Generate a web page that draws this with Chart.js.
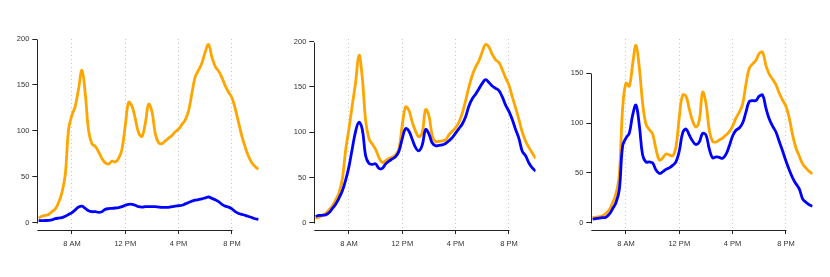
<!DOCTYPE html>
<html><head><meta charset="utf-8">
<script src="https://cdn.jsdelivr.net/npm/chart.js@4"></script>
<style>
html,body{margin:0;padding:0;background:#fff;}
#wrap{position:relative;width:830px;height:277px;background:#fff;}
canvas{position:absolute;top:0;}
</style></head><body>
<div id="wrap">
<canvas id="c1" width="277" height="277" style="left:0px"></canvas>
<canvas id="c2" width="277" height="277" style="left:277px"></canvas>
<canvas id="c3" width="276" height="277" style="left:554px"></canvas>
</div>
<script>
const hours = [5.5,5.75,6,6.25,6.5,6.75,7,7.25,7.5,7.75,8,8.25,8.5,8.75,9,9.25,9.5,9.75,10,10.25,10.5,10.75,11,11.25,11.5,11.75,12,12.25,12.5,12.75,13,13.25,13.5,13.75,14,14.25,14.5,14.75,15,15.25,15.5,15.75,16,16.25,16.5,16.75,17,17.25,17.5,17.75,18,18.25,18.5,18.75,19,19.25,19.5,19.75,20,20.25,20.5,20.75,21,21.25,21.5,21.75,22];

const orange1 = [5,7,8,9,12,15,22,33,53,102,117,127,146,166,140,100,86,83,77,70,65,64,67,66,70,80,106,131,127,113,98,94,108,129,121,97,87,86,89,92,95,99,102,107,112,122,141,159,166,174,186,194,180,170,165,158,149,142,136,124,109,94,82,72,65,61,58];
const blue1 = [2.2,2.3,2.4,2.5,3,4.4,5,5.5,7,9,11,14,17,18,15.5,13,12,12,11.3,12,14.5,15.3,15.6,16,16.5,17.5,19,20,20,19,17.5,17,17.4,17.5,17.5,17.4,17,16.7,16.7,16.7,17.5,18,18.5,19,20.5,22,23.5,24.5,25.2,26,27,28,26.5,25,23,20,18,17,15,12,10,9,8,6.8,5.5,4.3,3.5];

const orange2 = [5,6,8,10,14,18.5,25,33,48,80,104,130,155,185,160,113,93,87,81,72,66.5,68.5,71,72.5,75,82,108,128,124,111,101,95,100,125,118,96,89.5,90,90.5,91.5,97,101,105,111,121,135,150,163,172,179,189,197,194,186,180,177,169,160,152,139,127,114,100,90,83,77,71];
const blue2 = [7,8,8.2,8.7,11,15.5,20.5,27,35,47,62,82,101,111,103,74,65.5,64.5,65,60,60,65,68,70.5,73,79,93,104,101,92,83,79.5,86,103,98,88,85,85.5,86,87.5,90.5,94,99,104,109,117,129,137,142,148,154,158,155,151,148.5,146,139,130,123,114,103,93,79,74,66,60.5,57];

const orange3 = [5,5.5,6,7,9.5,13,20,29,48,115,140,137,159,178,156,120,99,93.5,89,74,63,65,69,68,67,76,106,128,127,114,102,96,103,131,120,93,81.5,81,83,85,88,91.5,97,105,111,119,139,155,159.5,163,170,171,158,149,144,138.5,130,123,117,105,88,75,67,59,55,51.5,49];
const blue3 = [3.5,4,4.5,5,5.5,8.5,14,20,33,77,85,90,108,118,98,68,61,61,60,53,49.5,51,53.5,55,57.5,61,72,90,94,88,82,78.5,81,89.5,88,74,65,66,65.5,64.6,68.5,77,87,92.8,95,100,111,121.6,122.5,122.6,127,128,115,104,97,91,81.5,72,62,53,45,39,34,24,20.5,18,16.5];

const yTicks1 = [0,50,100,150,200];
const yTicks2 = [0,50,100,150,200];
const yTicks3 = [0,50,100,150];
const xTickValues = [8,12,16,20];
const xTickLabels = ['8 AM','12 PM','4 PM','8 PM'];

const FONT = {family: "'Liberation Sans', Arial, sans-serif", size: 7.5};
const TXT = '#333';

const axisLines = {
  id: 'axisLines',
  beforeDatasetsDraw(chart) {
    const {ctx, chartArea, scales} = chart;
    const x = scales.x, y = scales.y;
    ctx.save();
    ctx.strokeStyle = '#222';
    ctx.lineWidth = 1;
    ctx.beginPath();
    const yt = y.ticks;
    const xl = Math.round(chartArea.left) + 0.5;
    ctx.moveTo(xl, Math.round(y.getPixelForValue(yt[0].value)) + 0.5);
    ctx.lineTo(xl, Math.round(y.getPixelForValue(yt[yt.length - 1].value)) + 0.5);
    const xt = x.ticks;
    const yb = Math.round(chartArea.bottom) + 0.5;
    ctx.moveTo(chartArea.left, yb);
    ctx.lineTo(Math.round(x.getPixelForValue(xt[xt.length - 1].value)) + 0.5, yb);
    ctx.stroke();
    ctx.restore();
  }
};

function makeChart(id, orange, blue, yTicks, yMin, yMax, canvasWidth) {
  const rightPad = canvasWidth - 37.3 - 221.3;
  const toPts = arr => arr.map((v, i) => ({x: hours[i], y: v}));
  new Chart(document.getElementById(id), {
    type: 'line',
    data: {
      datasets: [
        {data: toPts(blue), borderColor: '#0000ff', borderWidth: 2.8, pointRadius: 0, tension: 0.4, fill: false},
        {data: toPts(orange), borderColor: '#ffa500', borderWidth: 2.8, pointRadius: 0, tension: 0.4, fill: false}
      ]
    },
    options: {
      responsive: false,
      animation: false,
      devicePixelRatio: 1,
      layout: {padding: {left: 0, right: rightPad, top: 39, bottom: 0}, autoPadding: false},
      plugins: {legend: {display: false}, tooltip: {enabled: false}},
      scales: {
        x: {
          type: 'linear', min: 5.4, max: 22,
          afterBuildTicks: s => { s.ticks = xTickValues.map(v => ({value: v})); },
          afterFit: s => { s.height = 47; },
          ticks: {
            callback: v => xTickLabels[xTickValues.indexOf(v)],
            font: FONT, color: TXT, padding: 5, maxRotation: 0, autoSkip: false
          },
          grid: {
            drawOnChartArea: true, drawTicks: true, color: '#c8c8c8', lineWidth: 1,
            tickLength: 4, tickColor: '#222', tickWidth: 1
          },
          border: {display: false, dash: [1, 3]}
        },
        y: {
          type: 'linear', min: yMin, max: yMax,
          afterBuildTicks: s => { s.ticks = yTicks.map(v => ({value: v})); },
          afterFit: s => { s.width = 37.3; },
          ticks: {font: FONT, color: TXT, padding: 3},
          grid: {drawOnChartArea: false, drawTicks: true, tickLength: 5, tickColor: '#222', tickWidth: 1},
          border: {display: false}
        }
      }
    },
    plugins: [axisLines]
  });
}

makeChart('c1', orange1, blue1, yTicks1, -7.95, 200, 277);
makeChart('c2', orange2, blue2, yTicks2, -8.07, 203, 277);
makeChart('c3', orange3, blue3, yTicks3, -7.33, 184.4, 276);
</script>
</body></html>
